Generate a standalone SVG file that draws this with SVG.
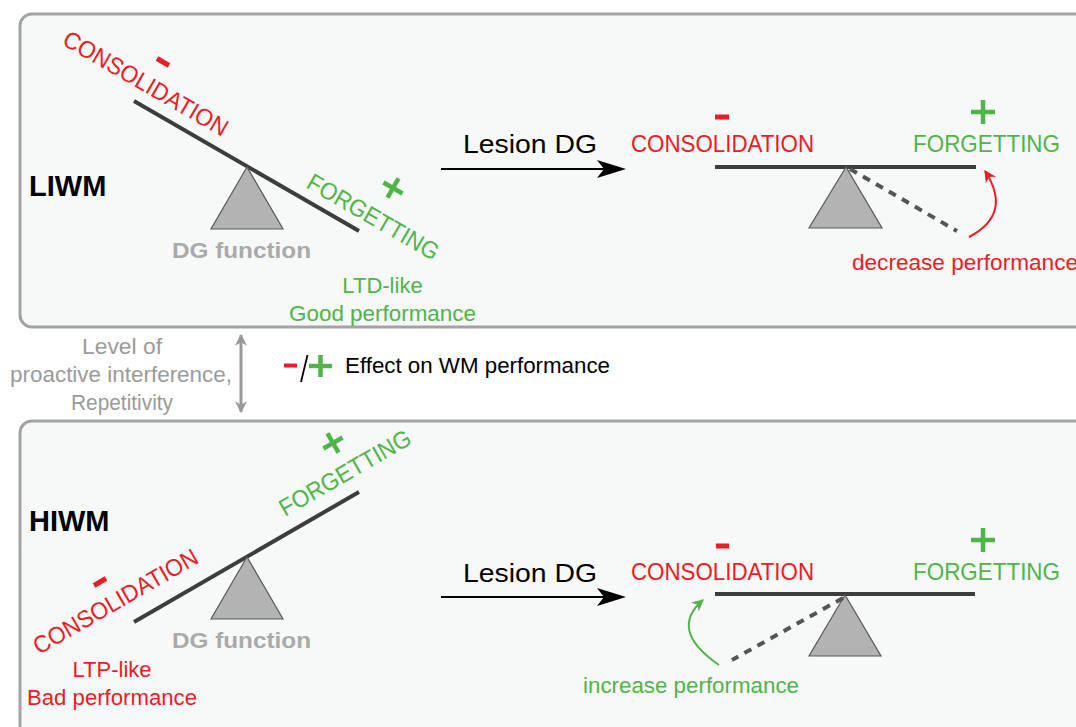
<svg xmlns="http://www.w3.org/2000/svg" width="1076" height="727" viewBox="0 0 1076 727">
<defs>
<style>
text{font-family:"Liberation Sans",Arial,sans-serif}
.panel{fill:#f7f8f8;stroke:#a3a3a3;stroke-width:3}
.beam{stroke:#3d3d3d;stroke-width:4;stroke-linecap:butt}
.fulc{fill:#b3b3b3;stroke:#5a5a5a;stroke-width:1.2}
.dash{stroke:#555;stroke-width:4;stroke-dasharray:8 7;fill:none}
.red{fill:#ea1c24}
.green{fill:#4fb548}
.lbl{font-size:22px}
.rot{font-size:24px}
.big{font-size:24px}
.title{font-size:29px;font-weight:bold;fill:#000}
.dg{font-size:22px;font-weight:bold;fill:#aaaaaa}
.gray{font-size:22px;fill:#9b9b9b}
.minus{stroke:#ea1c24;stroke-width:5}
.plus{stroke:#4fb548;stroke-width:4.5}
</style>
<marker id="mRed" viewBox="0 0 10 10" refX="9" refY="5" markerWidth="12" markerHeight="12" markerUnits="userSpaceOnUse" orient="auto">
<path d="M0,0 L10,5 L0,10 L3,5 Z" fill="#ea1c24"/>
</marker>
<marker id="mGreen" viewBox="0 0 10 10" refX="9" refY="5" markerWidth="12" markerHeight="12" markerUnits="userSpaceOnUse" orient="auto">
<path d="M0,0 L10,5 L0,10 L3,5 Z" fill="#4fb548"/>
</marker>
<marker id="mGray" viewBox="0 0 10 10" refX="9" refY="5" markerWidth="12" markerHeight="13" markerUnits="userSpaceOnUse" orient="auto-start-reverse">
<path d="M0,0 L10,5 L0,10 L3,5 Z" fill="#999"/>
</marker>
</defs>

<g id="panel-liwm">
<rect class="panel" x="20" y="14" width="1080" height="313" rx="12"/>
<text class="title" x="29" y="196">LIWM</text>
</g>
<g id="panel-hiwm">
<rect class="panel" x="20" y="421" width="1080" height="330" rx="12"/>
<text class="title" x="29" y="531">HIWM</text>
</g>

<g id="seesaw-liwm">
<line class="beam" x1="134" y1="101" x2="359" y2="231"/>
<polygon class="fulc" points="247,167 211,229 283,229"/>
<text class="dg" x="172" y="258" textLength="139" lengthAdjust="spacingAndGlyphs">DG function</text>
<text class="rot red" transform="translate(61,44) rotate(30)" textLength="186" lengthAdjust="spacingAndGlyphs">CONSOLIDATION</text>
<line class="minus" x1="157" y1="58.5" x2="169" y2="65.5"/>
<text class="rot green" transform="translate(305,187) rotate(30)" textLength="148" lengthAdjust="spacingAndGlyphs">FORGETTING</text>
<g transform="translate(393,188) rotate(30)"><line class="plus" x1="-11" y1="0" x2="11" y2="0"/><line class="plus" x1="0" y1="-11" x2="0" y2="11"/></g>
<text class="lbl green" x="382.5" y="293" text-anchor="middle">LTD-like</text>
<text class="lbl green" x="382.5" y="321" text-anchor="middle" textLength="187" lengthAdjust="spacingAndGlyphs">Good performance</text>
</g>

<g id="seesaw-liwm-lesion">
<text class="big red" x="631" y="152" textLength="183" lengthAdjust="spacingAndGlyphs">CONSOLIDATION</text>
<line class="minus" x1="715" y1="117" x2="729" y2="117"/>
<text class="big green" x="913" y="152" textLength="147" lengthAdjust="spacingAndGlyphs">FORGETTING</text>
<line class="plus" x1="971" y1="112" x2="995" y2="112"/><line class="plus" x1="983" y1="100" x2="983" y2="124"/>
<line class="beam" x1="715" y1="167" x2="976" y2="167"/>
<polygon class="fulc" points="846,167 809,228 882,228"/>
<line class="dash" x1="850" y1="169" x2="957" y2="231"/>
<text class="lbl red" x="852" y="270" textLength="226" lengthAdjust="spacingAndGlyphs">decrease performance</text>
</g>

<g id="seesaw-hiwm">
<line class="beam" x1="134" y1="622" x2="359" y2="492"/>
<polygon class="fulc" points="247,557 211,619 283,619"/>
<text class="dg" x="172" y="648" textLength="139" lengthAdjust="spacingAndGlyphs">DG function</text>
<text class="rot red" transform="translate(39,655) rotate(-30)" textLength="186" lengthAdjust="spacingAndGlyphs">CONSOLIDATION</text>
<line class="minus" x1="94" y1="585.5" x2="106" y2="578.5"/>
<text class="rot green" transform="translate(285,517) rotate(-30)" textLength="148" lengthAdjust="spacingAndGlyphs">FORGETTING</text>
<g transform="translate(333,443) rotate(-30)"><line class="plus" x1="-11" y1="0" x2="11" y2="0"/><line class="plus" x1="0" y1="-11" x2="0" y2="11"/></g>
<text class="lbl red" x="112" y="677" text-anchor="middle">LTP-like</text>
<text class="lbl red" x="112" y="705" text-anchor="middle" textLength="170" lengthAdjust="spacingAndGlyphs">Bad performance</text>
</g>

<g id="seesaw-hiwm-lesion">
<text class="big red" x="631" y="580" textLength="183" lengthAdjust="spacingAndGlyphs">CONSOLIDATION</text>
<line class="minus" x1="716" y1="546" x2="729" y2="546"/>
<text class="big green" x="913" y="580" textLength="147" lengthAdjust="spacingAndGlyphs">FORGETTING</text>
<line class="plus" x1="971" y1="540" x2="995" y2="540"/><line class="plus" x1="983" y1="528" x2="983" y2="552"/>
<line class="beam" x1="715" y1="594" x2="975" y2="594"/>
<polygon class="fulc" points="845,595 809,656 881,656"/>
<line class="dash" x1="843" y1="598" x2="732" y2="660"/>
<text class="lbl green" x="583" y="693" textLength="216" lengthAdjust="spacingAndGlyphs">increase performance</text>
</g>

<g id="legend">
<text class="gray" x="122" y="354" text-anchor="middle" textLength="80" lengthAdjust="spacingAndGlyphs">Level of</text>
<text class="gray" x="121" y="382" text-anchor="middle" textLength="222" lengthAdjust="spacingAndGlyphs">proactive interference,</text>
<text class="gray" x="122" y="410" text-anchor="middle" textLength="102" lengthAdjust="spacingAndGlyphs">Repetitivity</text>
<line x1="284" y1="365.5" x2="297" y2="365.5" stroke="#ea1c24" stroke-width="4"/>
<line x1="301" y1="382" x2="307.5" y2="355" stroke="#000" stroke-width="1.8"/>
<line class="plus" x1="309" y1="366" x2="332" y2="366"/><line class="plus" x1="320.5" y1="355" x2="320.5" y2="377"/>
<text x="345" y="373" font-size="22" fill="#000" textLength="265" lengthAdjust="spacingAndGlyphs">Effect on WM performance</text>
</g>

<g id="lesion-text">
<text x="463" y="153" font-size="26" fill="#000" textLength="134" lengthAdjust="spacingAndGlyphs">Lesion DG</text>
<text x="463" y="582" font-size="26" fill="#000" textLength="134" lengthAdjust="spacingAndGlyphs">Lesion DG</text>
</g>

<g id="connectors">
<line x1="441" y1="169" x2="605" y2="169" stroke="#000" stroke-width="2"/>
<path d="M626,169 L597,160 L604,169 L597,178 Z" fill="#000"/>
<line x1="441" y1="597" x2="605" y2="597" stroke="#000" stroke-width="2"/>
<path d="M626,597 L597,588 L604,597 L597,606 Z" fill="#000"/>
<path d="M969,237 Q1013,214 985,171" fill="none" stroke="#ea1c24" stroke-width="2" marker-end="url(#mRed)"/>
<path d="M719,665 Q668,630 703,600" fill="none" stroke="#4fb548" stroke-width="2" marker-end="url(#mGreen)"/>
<line x1="241" y1="335" x2="241" y2="412" stroke="#999" stroke-width="3" marker-start="url(#mGray)" marker-end="url(#mGray)"/>
</g>
</svg>
